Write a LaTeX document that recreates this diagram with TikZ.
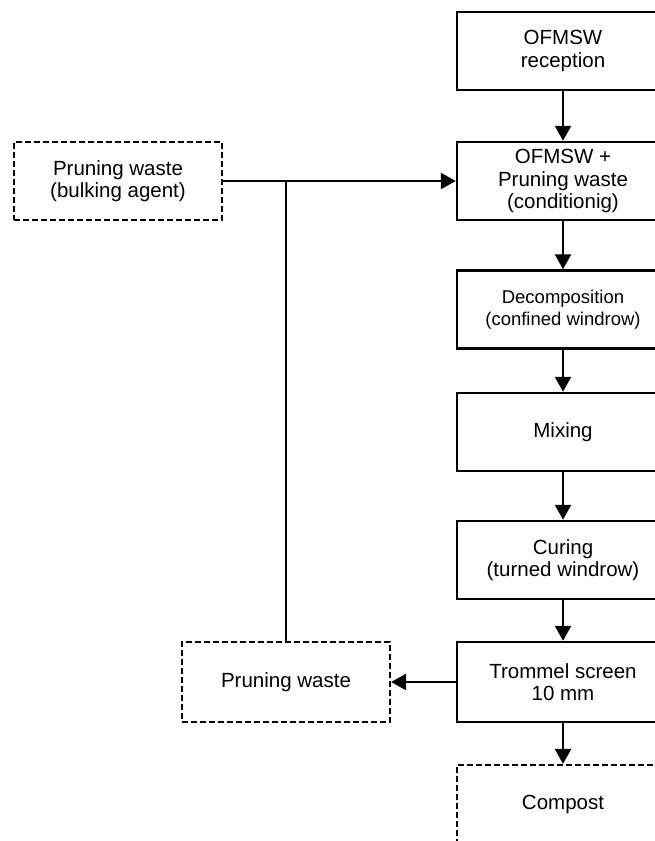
\documentclass[tikz,border=0pt]{standalone}
\usepackage{fontspec}
\setmainfont{Liberation Sans}
\usetikzlibrary{arrows.meta}

\begin{document}
\begin{tikzpicture}[x=1pt, y=-1pt, >={Triangle[length=15pt, width=16pt]}, line width=2.5pt,
    proc/.style={draw, line width=2.5pt, minimum width=212pt, minimum height=78pt,
        inner sep=0pt, align=center, font=\fontsize{20.5}{22.5}\selectfont},
    extbox/.style={proc, minimum width=208pt, line width=2.2pt, dash pattern=on 6pt off 3pt}]
                % Khung trang
                \useasboundingbox (0,0) rectangle (655,841);
                \clip (0,0) rectangle (655,841);

                % --- CỘT CHÍNH ---
                \node[proc] (recep) at (563, 51) {OFMSW\\reception};
                \node[proc] (cond) at (563, 181) {OFMSW +\\Pruning waste\\(conditionig)};
                \node[proc, font=\fontsize{18.5}{22}\selectfont] (decomp) at (563, 309.5) {Decomposition\\(confined windrow)};
                \node[proc] (mix) at (563, 432) {Mixing};
                \node[proc] (cure) at (563, 560) {Curing\\(turned windrow)};
                \node[proc, minimum height=80pt] (screen) at (563, 682) {Trommel screen\\10 mm};
                \node[extbox, minimum width=212pt] (compost) at (563, 804) {Compost};

                % Mũi tên giữa các bước
                \draw[->] (recep) -- (cond);
                \draw[->] (cond) -- (decomp);
                \draw[->] (decomp) -- (mix);
                \draw[->] (mix) -- (cure);
                \draw[->] (cure) -- (screen);
                \draw[->] (screen) -- (compost);

                % --- VÒNG TUẦN HOÀN CÀNH CÂY ---
                \node[extbox] (bulk) at (118, 181) {Pruning waste\\(bulking agent)};
                \node[extbox, minimum height=80pt] (prune) at (286, 682) {Pruning waste};
                \coordinate (J) at (prune.north |- bulk.east);

                \draw[->] (bulk) -- (cond);
                \draw[->] (screen) -- (prune);
                \draw (prune.north) -- (J);

            \end{tikzpicture}
\end{document}
